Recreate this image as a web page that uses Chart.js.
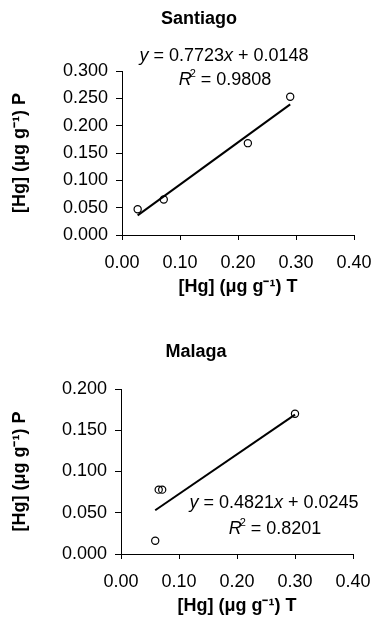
<!DOCTYPE html>
<html>
<head>
<meta charset="utf-8">
<script src="https://cdn.jsdelivr.net/npm/chart.js@4/dist/chart.umd.min.js"></script>
<style>
  html, body { margin: 0; padding: 0; background: #fff; }
  body { width: 373px; height: 617px; position: relative; overflow: hidden; }
  canvas { position: absolute; left: 0; }
  #c1 { top: 0; }
  #c2 { top: 310px; }
</style>
</head>
<body>
<canvas id="c1" width="373" height="310"></canvas>
<canvas id="c2" width="373" height="307"></canvas>
<script>
// ---- Data ----
const santiagoT = [0.027, 0.072, 0.217, 0.290];
const santiagoP = [0.047, 0.065, 0.168, 0.253];
const santiagoTrendT = [0.027, 0.290];
const santiagoTrendP = [0.036, 0.239];

const malagaT = [0.059, 0.065, 0.071, 0.300];
const malagaP = [0.016, 0.078, 0.078, 0.170];
const malagaTrendT = [0.059, 0.300];
const malagaTrendP = [0.053, 0.169];

const xTickValues = [0.0, 0.1, 0.2, 0.3, 0.4];
const xTickLabels = ['0.00', '0.10', '0.20', '0.30', '0.40'];
const santiagoYTickValues = [0.0, 0.05, 0.10, 0.15, 0.20, 0.25, 0.30];
const santiagoYTickLabels = ['0.000', '0.050', '0.100', '0.150', '0.200', '0.250', '0.300'];
const malagaYTickValues = [0.0, 0.05, 0.10, 0.15, 0.20];
const malagaYTickLabels = ['0.000', '0.050', '0.100', '0.150', '0.200'];

const titles = ['Santiago', 'Malaga'];
const xTitle = '[Hg] (\u03BCg g\u207B\u00B9) T';
const yTitle = '[Hg] (\u03BCg g\u207B\u00B9) P';
const santiagoEq = ['0.7723', '0.0148', '0.9808'];
const malagaEq = ['0.4821', '0.0245', '0.8201'];

const FONT = '"Liberation Sans", Arial, Helvetica, sans-serif';

function textPlugin(title, titlePos, eq, pos) {
  return {
    id: 'texts',
    afterDraw(chart) {
      const ctx = chart.ctx;
      ctx.save();
      ctx.fillStyle = '#000';
      ctx.textBaseline = 'middle';
      // chart title
      ctx.textAlign = 'center';
      ctx.font = 'bold 18px ' + FONT;
      ctx.fillText(title, titlePos[0], titlePos[1]);
      // trendline equation
      ctx.textAlign = 'left';
      const normal = '18px ' + FONT;
      const italic = 'italic 18px ' + FONT;
      const sup = '11px ' + FONT;
      function drawLine(segs, cx, cy) {
        let w = 0;
        segs.forEach(s => { ctx.font = s.f; s.w = ctx.measureText(s.t).width + (s.adv || 0); w += s.w; });
        let x = cx - w / 2;
        segs.forEach(s => { ctx.font = s.f; ctx.fillText(s.t, x, cy + (s.dy || 0)); x += s.w; });
      }
      drawLine([
        {t: 'y', f: italic},
        {t: ' = ' + eq[0], f: normal},
        {t: 'x', f: italic},
        {t: ' + ' + eq[1], f: normal}
      ], pos[0], pos[1]);
      drawLine([
        {t: 'R', f: italic, adv: -2},
        {t: '2', f: sup, dy: -6},
        {t: ' = ' + eq[2], f: normal}
      ], pos[2], pos[3]);
      ctx.restore();
    }
  };
}

function makeChart(id, H, title, titlePos, T, P, trT, trP, yMax, yVals, yLabels, chartLeft, chartRight, chartTop, chartBottom, xTitlePadBottom, eq, eqPos) {
  const pts = T.map((t, i) => ({x: t, y: P[i]}));
  const trend = trT.map((t, i) => ({x: t, y: trP[i]}));
  return new Chart(document.getElementById(id), {
    type: 'scatter',
    data: {
      datasets: [
        {
          type: 'line',
          data: trend,
          borderColor: '#000',
          borderWidth: 2,
          pointRadius: 0,
          fill: false,
          showLine: true
        },
        {
          data: pts,
          pointStyle: 'circle',
          pointRadius: 3.6,
          pointBorderWidth: 1.2,
          pointBackgroundColor: 'rgba(255,255,255,0)',
          pointBorderColor: '#000'
        }
      ]
    },
    options: {
      responsive: false,
      animation: false,
      devicePixelRatio: 1,
      layout: { padding: { left: 0, right: 373 - chartRight, top: chartTop, bottom: 0 } },
      plugins: {
        legend: { display: false },
        tooltip: { enabled: false },
        title: { display: false }
      },
      scales: {
        x: {
          type: 'linear',
          min: 0,
          max: 0.4,
          afterBuildTicks(s) { s.ticks = xTickValues.map(v => ({value: v})); },
          afterFit(s) { s.height = H - chartBottom; s.paddingLeft = 0; s.paddingRight = 0; },
          ticks: {
            color: '#000',
            font: { family: FONT, size: 18 },
            padding: 12,
            maxRotation: 0,
            autoSkip: false,
            callback: (v, i) => xTickLabels[i]
          },
          grid: { display: true, drawOnChartArea: false, drawTicks: true, tickLength: 5, color: '#000', lineWidth: 1 },
          border: { display: true, color: '#000', width: 1 },
          title: {
            display: true,
            text: xTitle,
            color: '#000',
            font: { family: FONT, size: 18, weight: 'bold' },
            padding: { top: 0, bottom: xTitlePadBottom }
          }
        },
        y: {
          type: 'linear',
          min: 0,
          max: yMax,
          afterBuildTicks(s) { s.ticks = yVals.map(v => ({value: v})); },
          afterFit(s) { s.width = chartLeft; s.paddingTop = 0; s.paddingBottom = 0; },
          ticks: {
            color: '#000',
            font: { family: FONT, size: 18 },
            padding: 8,
            autoSkip: false,
            callback: (v, i) => yLabels[i]
          },
          grid: { display: true, drawOnChartArea: false, drawTicks: true, tickLength: 6, color: '#000', lineWidth: 1 },
          border: { display: true, color: '#000', width: 1 },
          title: {
            display: true,
            text: yTitle,
            color: '#000',
            font: { family: FONT, size: 18, weight: 'bold' },
            padding: { top: 9, bottom: 0 }
          }
        }
      }
    },
    plugins: [textPlugin(title, titlePos, eq, eqPos)]
  });
}

makeChart('c1', 310, titles[0], [199, 19], santiagoT, santiagoP, santiagoTrendT, santiagoTrendP,
  0.3, santiagoYTickValues, santiagoYTickLabels, 122, 354, 71, 235, 12, santiagoEq, [224, 56, 225, 80]);

makeChart('c2', 307, titles[1], [196, 42], malagaT, malagaP, malagaTrendT, malagaTrendP,
  0.2, malagaYTickValues, malagaYTickLabels, 121, 353, 79, 244, 0, malagaEq, [274, 193, 275, 219]);
</script>
</body>
</html>
